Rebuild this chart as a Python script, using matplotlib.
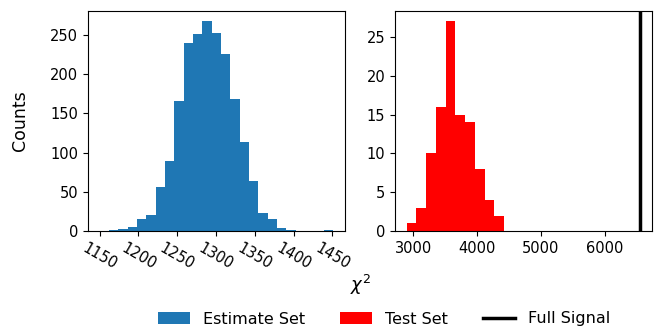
import numpy as np
import matplotlib.pyplot as plt

# chi^2 histogram counts
est_edges = np.linspace(1150, 1451, 26)
est_counts = [0, 1, 3, 5, 15, 20, 56, 89, 166, 240, 251, 267, 252, 226,
              168, 114, 64, 23, 15, 4, 1, 0, 0, 0, 1]

test_edges = np.linspace(2896, 4422, 11)
test_counts = [1, 3, 10, 16, 27, 15, 14, 8, 4, 2]

full_signal = 6553

est_ticks = [1150, 1200, 1250, 1300, 1350, 1400, 1450]

fig = plt.figure(figsize=(6.55, 3.31), dpi=100)
ax1 = fig.add_axes([0.1344, 0.302, 0.392, 0.665])
ax2 = fig.add_axes([0.603, 0.302, 0.392, 0.665])

est_centers = 0.5 * (est_edges[1:] + est_edges[:-1])
ax1.hist(est_centers, bins=est_edges, weights=est_counts,
         color='#1f77b4', label='Estimate Set')
ax1.set_xticks(est_ticks)
ax1.tick_params(axis='x', labelrotation=-30, labelsize=10.5)
ax1.tick_params(axis='y', labelsize=10.5)
ax1.set_ylabel('Counts', fontsize=12.5, labelpad=15)

test_centers = 0.5 * (test_edges[1:] + test_edges[:-1])
ax2.hist(test_centers, bins=test_edges, weights=test_counts,
         color='red', label='Test Set')
ax2.axvline(full_signal, color='black', lw=2.5, label='Full Signal')
ax2.tick_params(labelsize=10.5)

fig.text(361 / 655, 1 - 285 / 331, r'$\chi^2$', fontsize=13,
         ha='center', va='center')

h1, l1 = ax1.get_legend_handles_labels()
h2, l2 = ax2.get_legend_handles_labels()
fig.legend(h1 + h2, l1 + l2, loc='center', ncol=3, frameon=False,
           fontsize=11.5, bbox_to_anchor=(384 / 655, 1 - 319 / 331),
           columnspacing=2.2)

fig.savefig('out.png', dpi=100)
